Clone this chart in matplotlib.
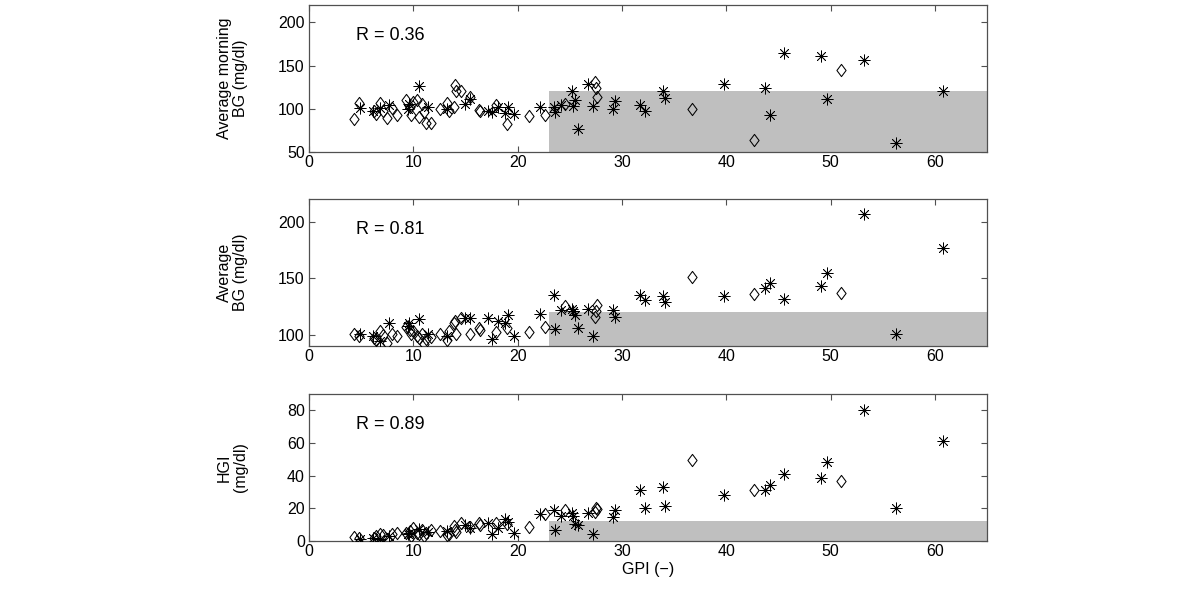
'''
Three stacked scatter panels of blood glucose measures against GPI,
with the target region shaded grey.
'''

import numpy as np
import matplotlib
matplotlib.use('Agg')
import matplotlib.pyplot as plt
from matplotlib.path import Path

plt.rcParams['font.family'] = ['Liberation Sans', 'DejaVu Sans']

#Diamond group: GPI and the three outcome values
dia_gpi = [4.3, 4.8, 6.2, 6.4, 6.8, 7.1, 7.5, 8.0, 8.4, 9.3,
           9.7, 9.8, 10.0, 10.4, 10.5, 10.8, 11.0, 11.2, 11.7, 12.6,
           13.2, 13.4, 13.9, 14.0, 14.1, 14.6, 15.4, 16.3, 16.4, 17.9,
           19.0, 21.1, 22.6, 24.5, 27.4, 27.5, 27.6, 36.7, 42.7, 51.0]
dia_morning = [88, 107, 97, 94, 107, 98, 89, 101, 93, 110,
               102, 93, 108, 110, 91, 105, 96, 84, 84, 100,
               107, 97, 102, 128, 121, 120, 114, 99, 98, 104,
               82, 92, 93, 105, 131, 124, 114, 100, 64, 145]
dia_avg = [101, 99, 97, 95, 103, 100, 93, 101, 99, 107,
           104, 101, 103, 99, 97, 101, 92, 96, 98, 101,
           95, 103, 110, 112, 101, 115, 101, 106, 104, 102,
           106, 102, 107, 125, 116, 121, 126, 151, 136, 137]
dia_hgi = [2.5, 2, 2, 3, 4, 3.5, 1.5, 4, 5, 5,
           6, 3, 8, 5, 4, 7, 3, 5, 7, 6,
           3.5, 4.5, 9, 7, 5.5, 11, 8.5, 11, 10, 11,
           10.5, 8.5, 16.5, 19, 18, 20.5, 19.5, 49.5, 31.5, 37]

#Asterisk group
star_gpi = [4.85, 6.15, 6.8, 7.7, 9.5, 9.6, 10.5, 11.4, 13.2, 15.0,
            15.4, 17.2, 17.5, 18.1, 18.8, 19.1, 19.7, 22.1, 23.5, 23.6,
            24.2, 25.2, 25.3, 25.5, 25.75, 26.7, 27.2, 29.1, 29.3, 31.7,
            32.2, 33.9, 34.1, 39.8, 43.7, 44.2, 45.5, 49.1, 49.7, 53.2,
            56.3, 60.8]
star_morning = [101, 98, 101, 104, 100, 106, 126, 102, 100, 105,
                111, 98, 96, 102, 95, 102, 94, 102, 102, 96,
                104, 120, 103, 110, 77, 129, 103, 100, 109, 104,
                97, 120, 112, 129, 124, 93, 165, 161, 111, 156,
                60, 120]
star_avg = [101, 98.5, 94, 110, 108, 110, 114, 101, 99, 115,
            115, 115, 96, 112, 110, 117, 99, 118, 135, 105,
            122, 123, 121, 117, 106, 123, 99, 122, 116, 135,
            131, 134, 128.5, 134, 141, 146, 131.5, 143.5, 155, 207,
            101, 177]
star_hgi = [1, 2, 1.5, 3, 4, 5, 7.5, 5.5, 6, 9.5,
            8, 11, 4, 8, 13.5, 11.5, 5, 16.5, 19, 7,
            15.5, 17, 15, 10.5, 10, 17, 4, 14.5, 19, 31,
            20.5, 33, 21.5, 28, 31.5, 34, 41, 38.5, 48.5, 80,
            20.5, 61.5]

#Panel settings
ylabels = ['Average morning\nBG (mg/dl)', 'Average\nBG (mg/dl)', 'HGI\n(mg/dl)']
r_labels = ['R = 0.36', 'R = 0.81', 'R = 0.89']
ylims = [(50, 220), (90, 220), (0, 90)]
yticks = [[50, 100, 150, 200], [100, 150, 200], [0, 20, 40, 60, 80]]
shade_x = 23
shade_top = [120, 120, 12]
xticks = [0, 10, 20, 30, 40, 50, 60]

diamond = Path([(0, 1), (0.75, 0), (0, -1), (-0.75, 0), (0, 1)],
               [Path.MOVETO, Path.LINETO, Path.LINETO, Path.LINETO, Path.CLOSEPOLY])


def main():
    fig = plt.figure(figsize=(12, 5.9), dpi=100)
    bottoms = [0.7424, 0.4136, 0.0831]
    height = 0.249
    dia_y = [dia_morning, dia_avg, dia_hgi]
    star_y = [star_morning, star_avg, star_hgi]
    for i in range(3):
        ax = fig.add_axes([0.2575, bottoms[i], 0.565, height])
        lo, hi = ylims[i]
        #Shaded target region, covers the ticks under it
        ax.fill_between([shade_x, 65], lo, shade_top[i], color='#bfbfbf',
                        linewidth=0, zorder=2)
        ax.plot(dia_gpi, dia_y[i], linestyle='none', marker=diamond, ms=8.8,
                mfc='none', mec='black', mew=0.75, zorder=3)
        ax.plot(star_gpi, star_y[i], linestyle='none', marker=(8, 2, 0), ms=8.5,
                mec='black', mew=0.55, zorder=3)
        ax.set_xlim(0, 65)
        ax.set_ylim(lo, hi)
        ax.set_xticks(xticks)
        ax.set_yticks(yticks[i])
        ax.tick_params(direction='in', top=True, right=True, length=4,
                       width=0.8, color='#505050', labelsize=11.5, pad=3)
        ax.tick_params(axis='x', pad=2)
        for sp in ax.spines.values():
            sp.set_color('#505050')
            sp.set_linewidth(0.9)
        ax.text(0.069, 0.79, r_labels[i], transform=ax.transAxes,
                fontsize=13, va='center', ha='left')
        ax.set_ylabel(ylabels[i], fontsize=11.5, linespacing=1.1)
        ax.yaxis.set_label_coords(-0.09, 0.5)
        if i == 2:
            ax.set_xlabel('GPI (\u2212)', fontsize=11.5, labelpad=2)
    plt.savefig('out.png', dpi=100)


if __name__ == '__main__':
    main()
